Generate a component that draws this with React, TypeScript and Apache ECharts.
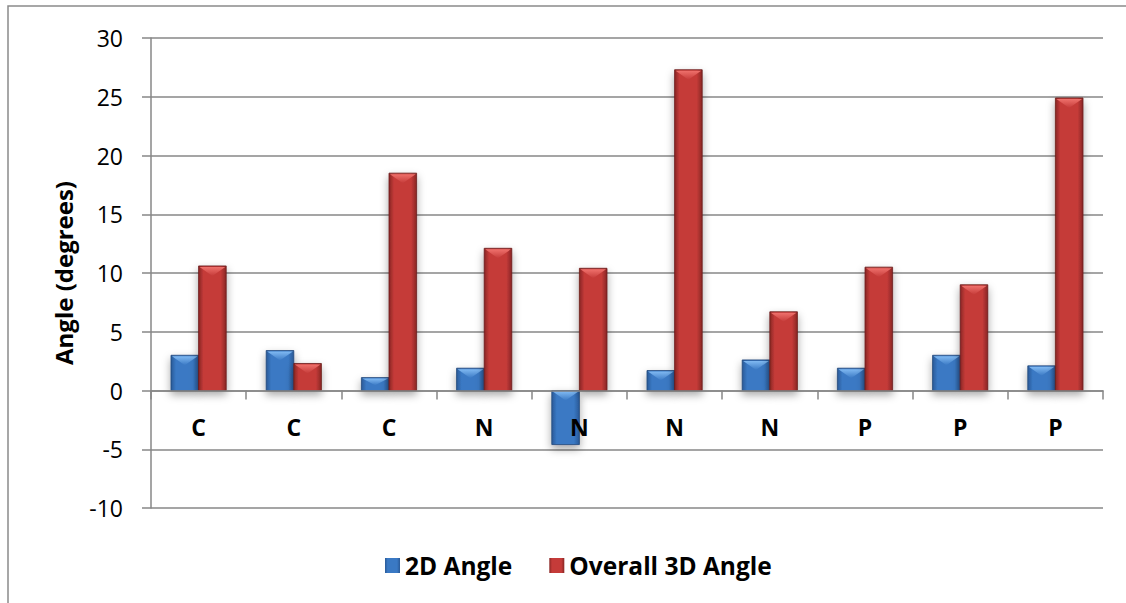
import React, { useEffect, useRef } from "react";
import * as echarts from "echarts";

// Category labels along the x axis
const categories = ["C", "C", "C", "N", "N", "N", "N", "P", "P", "P"];

// Series values (degrees)
const angle2D = [3.0, 3.4, 1.1, 1.9, -4.6, 1.7, 2.6, 1.9, 3.0, 2.1];
const angle3D = [10.6, 2.3, 18.5, 12.1, 10.4, 27.3, 6.7, 10.5, 9.0, 24.9];

const seriesNames = ["2D Angle", "Overall 3D Angle"];

const Y_MIN = -10;
const Y_MAX = 30;
const Y_STEP = 5;

const FONT = "'Open Sans', 'Noto Sans', sans-serif";

type Palette = { edge: string; body: string; light: string; stroke: string };

const BLUE: Palette = { edge: "#2a5a98", body: "#3a79c4", light: "#80b9f2", stroke: "#21467a" };
const RED: Palette = { edge: "#892624", body: "#c53b39", light: "#ef716c", stroke: "#6a1c1b" };

function hGradient(p: Palette) {
  return new echarts.graphic.LinearGradient(0, 0, 1, 0, [
    { offset: 0, color: p.edge },
    { offset: 0.18, color: p.body },
    { offset: 0.8, color: p.body },
    { offset: 1, color: p.edge },
  ]);
}

// Bevelled bar, placed left (side 0) or right (side 1) of the category centre
function makeRenderItem(side: number, p: Palette) {
  return (params: any, api: any) => {
    const idx = api.value(0);
    const v = api.value(1);
    const base = api.coord([idx, 0]);
    const tip = api.coord([idx, v]);
    const band = api.size([1, 0])[0];
    const w = band * 0.29;
    const x = side === 0 ? base[0] - w : base[0];
    const y = Math.min(base[1], tip[1]);
    const h = Math.abs(base[1] - tip[1]);
    const bev = Math.min(10, h * 0.6);
    return {
      type: "group",
      children: [
        {
          type: "rect",
          shape: { x, y, width: w, height: h },
          style: {
            fill: hGradient(p),
            stroke: p.stroke,
            lineWidth: 0.8,
            shadowBlur: 8,
            shadowOffsetY: 4,
            shadowColor: "rgba(0,0,0,0.35)",
          },
        },
        {
          type: "polygon",
          shape: {
            points: [
              [x + 1, y + 1],
              [x + w - 1, y + 1],
              [x + w / 2, y + bev],
            ],
          },
          style: {
            fill: new echarts.graphic.LinearGradient(0, 0, 0, 1, [
              { offset: 0, color: p.light },
              { offset: 1, color: p.body },
            ]),
          },
        },
      ],
    };
  };
}

export default function App() {
  const ref = useRef<HTMLDivElement>(null);

  useEffect(() => {
    if (!ref.current) return;
    const chart = echarts.init(ref.current, null, { renderer: "svg" });
    const gridColor = "#878787";
    const left = 151;
    const right = 23;
    const top = 38;
    const bottom = 95;
    const plotH = 603 - top - bottom;
    // pixel row of the zero line, where the category axis sits
    const zeroY = top + ((Y_MAX - 0) / (Y_MAX - Y_MIN)) * plotH;

    chart.setOption({
      animation: false,
      backgroundColor: "#ffffff",
      textStyle: { fontFamily: FONT },
      graphic: [
        {
          type: "rect",
          shape: { x: 8, y: 6, width: 1200, height: 700 },
          style: { fill: "none", stroke: "#8a8a8a", lineWidth: 1.5 },
          silent: true,
        },
      ],
      grid: [
        { left, right, top, bottom },
        // category axis grid whose lower edge lies on the zero line
        { left, right, top, bottom: 603 - zeroY },
      ],
      legend: {
        left: 380,
        top: 548,
        icon: "rect",
        itemWidth: 15,
        itemHeight: 15,
        itemGap: 37,
        textStyle: { fontFamily: FONT, fontSize: 24.5, fontWeight: "bold", color: "#000" },
        data: seriesNames,
      },
      xAxis: [
        {
          type: "category",
          gridIndex: 0,
          data: categories,
          axisLine: { show: false },
          axisTick: { show: false },
          axisLabel: { show: false },
        },
        {
          type: "category",
          gridIndex: 1,
          data: categories,
          axisLine: { onZero: false, lineStyle: { color: gridColor, width: 1.5 } },
          axisTick: { show: true, length: 9, interval: 0, lineStyle: { color: gridColor, width: 1.5 } },
          axisLabel: {
            interval: 0,
            margin: 24,
            fontFamily: FONT,
            fontSize: 23,
            fontWeight: "bold",
            color: "#000",
            lineHeight: 24,
          },
          z: 5,
        },
      ],
      yAxis: [
        {
          type: "value",
          gridIndex: 0,
          min: Y_MIN,
          max: Y_MAX,
          interval: Y_STEP,
          name: "Angle (degrees)",
          nameLocation: "middle",
          nameGap: 76,
          nameTextStyle: { fontFamily: FONT, fontSize: 24, fontWeight: "bold", color: "#000" },
          axisLine: { show: true, lineStyle: { color: gridColor, width: 1.5 } },
          axisTick: { show: true, length: 9, lineStyle: { color: gridColor, width: 1.5 } },
          axisLabel: { margin: 28, fontFamily: FONT, fontSize: 23, color: "#000" },
          splitLine: { show: true, lineStyle: { color: gridColor, width: 1.5 } },
        },
        {
          type: "value",
          gridIndex: 1,
          min: 0,
          max: 1,
          show: false,
        },
      ],
      series: [
        {
          name: seriesNames[0],
          type: "custom",
          xAxisIndex: 0,
          yAxisIndex: 0,
          renderItem: makeRenderItem(0, BLUE),
          encode: { x: 0, y: 1 },
          itemStyle: { color: hGradient(BLUE) },
          data: angle2D.map((v, i) => [i, v]),
          z: 3,
        },
        {
          name: seriesNames[1],
          type: "custom",
          xAxisIndex: 0,
          yAxisIndex: 0,
          renderItem: makeRenderItem(1, RED),
          encode: { x: 0, y: 1 },
          itemStyle: { color: hGradient(RED) },
          data: angle3D.map((v, i) => [i, v]),
          z: 3,
        },
      ],
    });

    return () => chart.dispose();
  }, []);

  return (
    <div
      ref={ref}
      style={{ position: "fixed", left: 0, top: 0, width: 1126, height: 603, background: "#fff" }}
    />
  );
}
